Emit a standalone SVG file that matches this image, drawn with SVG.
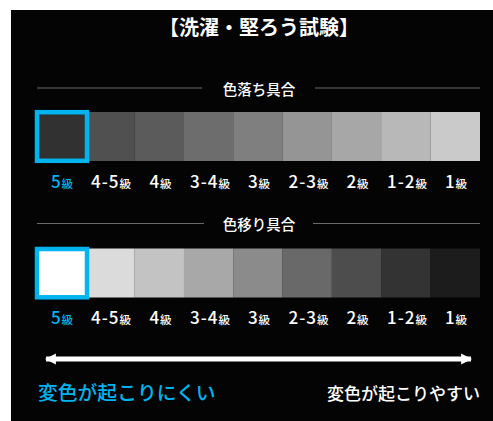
<svg xmlns="http://www.w3.org/2000/svg" width="493" height="421" viewBox="0 0 493 421">
<defs>
<style>
.jp{font-family:"Noto Sans CJK JP","Noto Sans",sans-serif;}
.title{font-size:20px;font-weight:bold;fill:#fff;}
.head{font-size:14.5px;font-weight:500;fill:#fff;}
.rule{stroke:#6a6a6a;stroke-width:1.2;}
.lbl{font-size:17px;font-weight:500;fill:#fff;letter-spacing:1px;}
.lbl .k{font-size:11.5px;letter-spacing:0;}
.blue{fill:#00b4ef;}
.sel{fill:none;stroke:#00b4ef;stroke-width:4.5;}
.foot{font-weight:500;}
</style>
<marker id="ah" viewBox="0 0 10 10" refX="9" refY="5" markerWidth="2.2" markerHeight="2.4" orient="auto-start-reverse" markerUnits="strokeWidth">
<path d="M0,0 L10,5 L0,10 Z" fill="#fff"/>
</marker>
</defs>
<rect x="11" y="10" width="482" height="411" fill="#040404"/>
<g id="title"><text class="jp title" x="259" y="35" text-anchor="middle">【洗濯・堅ろう試験】</text></g>

<g id="row1">
<line class="rule" x1="37" y1="88" x2="202" y2="88"/>
<line class="rule" x1="315" y1="88" x2="480" y2="88"/>
<text class="jp head" x="259" y="95" text-anchor="middle">色落ち具合</text>
<rect x="36" y="112" width="49.4" height="49" fill="#313131"/>
<rect x="85.3" y="112" width="49.4" height="49" fill="#505050"/>
<rect x="134.6" y="112" width="49.4" height="49" fill="#5b5b5b"/>
<rect x="183.9" y="112" width="49.4" height="49" fill="#6d6d6d"/>
<rect x="233.2" y="112" width="49.4" height="49" fill="#7f7f7f"/>
<rect x="282.5" y="112" width="49.4" height="49" fill="#959595"/>
<rect x="331.8" y="112" width="49.4" height="49" fill="#a7a7a7"/>
<rect x="381.1" y="112" width="49.4" height="49" fill="#b8b8b8"/>
<rect x="430.4" y="112" width="49.6" height="49" fill="#cacaca"/>
<rect class="sel" x="37" y="112.2" width="50" height="48.6"/>
<g class="jp lbl" text-anchor="middle">
<text x="62" y="188" class="blue">5<tspan class="k">級</tspan></text>
<text x="111" y="188">4-5<tspan class="k">級</tspan></text>
<text x="160.5" y="188">4<tspan class="k">級</tspan></text>
<text x="210" y="188">3-4<tspan class="k">級</tspan></text>
<text x="259" y="188">3<tspan class="k">級</tspan></text>
<text x="308.5" y="188">2-3<tspan class="k">級</tspan></text>
<text x="357.5" y="188">2<tspan class="k">級</tspan></text>
<text x="407" y="188">1-2<tspan class="k">級</tspan></text>
<text x="456" y="188">1<tspan class="k">級</tspan></text>
</g>
</g>

<g id="row2">
<line class="rule" x1="37" y1="223.5" x2="204" y2="223.5"/>
<line class="rule" x1="313" y1="223.5" x2="480" y2="223.5"/>
<text class="jp head" x="259" y="230" text-anchor="middle">色移り具合</text>
<rect x="36" y="248.5" width="49.4" height="49" fill="#ffffff"/>
<rect x="85.3" y="248.5" width="49.4" height="49" fill="#dbdbdb"/>
<rect x="134.6" y="248.5" width="49.4" height="49" fill="#c3c3c3"/>
<rect x="183.9" y="248.5" width="49.4" height="49" fill="#a8a8a8"/>
<rect x="233.2" y="248.5" width="49.4" height="49" fill="#8b8b8b"/>
<rect x="282.5" y="248.5" width="49.4" height="49" fill="#696969"/>
<rect x="331.8" y="248.5" width="49.4" height="49" fill="#4d4d4d"/>
<rect x="381.1" y="248.5" width="49.4" height="49" fill="#333333"/>
<rect x="430.4" y="248.5" width="49.6" height="49" fill="#1c1c1c"/>
<rect class="sel" x="37" y="249" width="50" height="48.3"/>
<g class="jp lbl" text-anchor="middle">
<text x="62" y="324" class="blue">5<tspan class="k">級</tspan></text>
<text x="111" y="324">4-5<tspan class="k">級</tspan></text>
<text x="160.5" y="324">4<tspan class="k">級</tspan></text>
<text x="210" y="324">3-4<tspan class="k">級</tspan></text>
<text x="259" y="324">3<tspan class="k">級</tspan></text>
<text x="308.5" y="324">2-3<tspan class="k">級</tspan></text>
<text x="357.5" y="324">2<tspan class="k">級</tspan></text>
<text x="407" y="324">1-2<tspan class="k">級</tspan></text>
<text x="456" y="324">1<tspan class="k">級</tspan></text>
</g>
</g>

<g id="connectors">
<line x1="46" y1="359" x2="471" y2="359" stroke="#fff" stroke-width="5" marker-start="url(#ah)" marker-end="url(#ah)"/>
</g>

<g id="footer">
<text class="jp foot blue" x="38" y="400" font-size="19.8">変色が起こりにくい</text>
<text class="jp foot" x="480" y="400" font-size="17" fill="#fff" text-anchor="end">変色が起こりやすい</text>
</g>
</svg>
